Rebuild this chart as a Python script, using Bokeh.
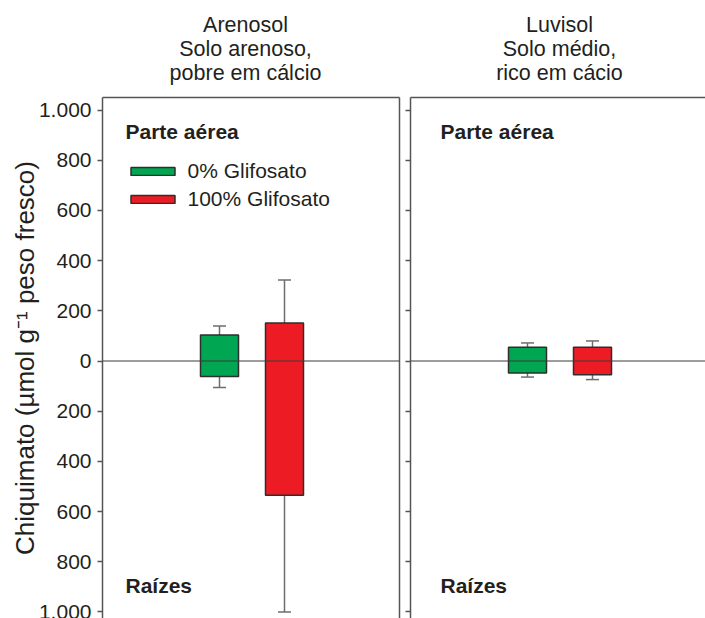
from bokeh.plotting import figure
from bokeh.models import (Range1d, LinearAxis, FixedTicker, Span, Whisker, TeeHead,
                          ColumnDataSource, Label, Legend, LegendItem)
from bokeh.layouts import row, column
from bokeh.embed import file_html
from bokeh.resources import INLINE

# ---------------- data ----------------
treatments = ["0% Glifosato", "100% Glifosato"]
colors = ["#00a651", "#ed1c24"]

# Arenosol (shoot = parte aérea, root = raízes), µmol g-1 peso fresco
are_shoot = [104, 151]
are_shoot_hi = [140, 323]
are_root = [62, 535]
are_root_lo = [106, 1000]

# Luvisol
luv_shoot = [55, 55]
luv_shoot_hi = [72, 80]
luv_root = [48, 55]
luv_root_lo = [64, 74]

ytick_values = [-1000, -800, -600, -400, -200, 0, 200, 400, 600, 800, 1000]
ytick_labels = ["1.000", "800", "600", "400", "200", "0", "200", "400", "600", "800", "1.000"]
panel_titles = [["Arenosol", "Solo arenoso,", "pobre em cálcio"],
                ["Luvisol", "Solo médio,", "rico em cácio"]]
shoot_label = "Parte aérea"
root_label = "Raízes"
y_label = "Chiquimato (µmol g\u207b\u00b9 peso fresco)"

# ---------------- style / layout ----------------
FONT = "Liberation Sans"
TXT = "#231f20"
FRAME = "#555555"
EDGE = "#2e2e2e"
WHISK = "#6e6e6e"
PX_PER_CAT = 65.0
FIRST_OFFSET = 117.0
W = 705
HEAD_H = 96
H = 522
Y_RANGE = (-1026, 1050)
TITLE_CENTERS = [245, 559]          # header pixels
TITLE_ROWS = [24, 48.5, 72]         # header pixels


def border_axis():
    return LinearAxis(ticker=FixedTicker(ticks=[]), major_tick_out=0, major_tick_in=0,
                      minor_tick_out=0, minor_tick_in=0, major_label_standoff=0,
                      axis_line_color=FRAME, axis_line_width=1.5)


def make_panel(shoot, shoot_hi, root, root_lo, width, border_left, border_right,
               frame_w, label_off, show_labels, right_border, legend):
    x0 = -FIRST_OFFSET / PX_PER_CAT
    x1 = x0 + frame_w / PX_PER_CAT
    p = figure(width=width, height=H, x_range=Range1d(x0, x1), y_range=Range1d(*Y_RANGE),
               output_backend="svg", toolbar_location=None, title=None,
               x_axis_location=None, y_axis_location=None,
               min_border_left=border_left, min_border_right=border_right,
               min_border_top=1, min_border_bottom=0)
    p.grid.visible = False
    p.outline_line_color = None
    p.background_fill_color = "white"
    p.border_fill_color = "white"

    src = ColumnDataSource(dict(
        x=list(range(len(treatments))),
        top=shoot,
        bottom=[-v for v in root],
        hi=shoot_hi,
        lo=[-v for v in root_lo],
        color=colors,
        name=treatments,
    ))

    w = Whisker(base="x", upper="hi", lower="lo", source=src, level="underlay",
                line_color=WHISK, line_width=1.5,
                upper_head=TeeHead(size=13, line_color=WHISK, line_width=1.5),
                lower_head=TeeHead(size=13, line_color=WHISK, line_width=1.5))
    p.add_layout(w)

    r = p.vbar(x="x", width=38 / PX_PER_CAT, top="top", bottom="bottom", source=src,
               fill_color="color", line_color=EDGE, line_width=1.5)

    p.add_layout(Span(location=0, dimension="width", line_color="#3a3a3a", line_width=1))

    yax = LinearAxis(ticker=FixedTicker(ticks=ytick_values),
                     major_tick_out=5, major_tick_in=0, minor_tick_out=0, minor_tick_in=0,
                     axis_line_color=FRAME, axis_line_width=1.5,
                     major_tick_line_color=FRAME, major_tick_line_width=1.5)
    if show_labels:
        yax.major_label_overrides = {v: s for v, s in zip(ytick_values, ytick_labels)}
        yax.major_label_text_font = FONT
        yax.major_label_text_font_size = "21px"
        yax.major_label_text_color = TXT
        yax.major_label_standoff = 6
        yax.axis_label = y_label
        yax.axis_label_text_font = FONT
        yax.axis_label_text_font_size = "26px"
        yax.axis_label_text_font_style = "normal"
        yax.axis_label_text_color = TXT
        yax.axis_label_standoff = -4
    else:
        yax.major_label_overrides = {v: "" for v in ytick_values}
        yax.major_label_standoff = 0
    p.add_layout(yax, "left")
    p.add_layout(border_axis(), "above")
    if right_border:
        p.add_layout(border_axis(), "right")

    lx = x0 + label_off / PX_PER_CAT
    p.add_layout(Label(x=lx, y=914, text=shoot_label, text_font=FONT, text_font_size="21px",
                       text_font_style="bold", text_color=TXT, text_baseline="alphabetic"))
    p.add_layout(Label(x=lx, y=-893, text=root_label, text_font=FONT, text_font_size="21px",
                       text_font_style="bold", text_color=TXT, text_baseline="alphabetic"))

    if legend:
        items = [LegendItem(label=treatments[i], renderers=[r], index=i)
                 for i in range(len(treatments))]
        leg = Legend(items=items, location=(22.5, 407.5), orientation="vertical",
                     border_line_color=None, background_fill_alpha=0,
                     label_text_font=FONT, label_text_font_size="21px", label_text_color=TXT,
                     label_standoff=8, glyph_width=55, glyph_height=10, label_height=23,
                     spacing=4, padding=0, margin=0)
        p.add_layout(leg)
    return p


# header with the panel titles (pixel coordinates, y downwards)
head = figure(width=W, height=HEAD_H, x_range=Range1d(0, W), y_range=Range1d(HEAD_H, 0),
              output_backend="svg", toolbar_location=None, title=None,
              x_axis_location=None, y_axis_location=None,
              min_border=0)
head.grid.visible = False
head.outline_line_color = None
head.border_fill_color = "white"
for cx, lines in zip(TITLE_CENTERS, panel_titles):
    for by, line in zip(TITLE_ROWS, lines):
        head.add_layout(Label(x=cx, y=by, text=line, text_align="center",
                              text_baseline="alphabetic", text_font=FONT,
                              text_font_size="21.5px", text_color=TXT))

p1 = make_panel(are_shoot, are_shoot_hi, are_root, are_root_lo,
                width=402, border_left=102, border_right=3, frame_w=297, label_off=23,
                show_labels=True, right_border=True, legend=True)
p2 = make_panel(luv_shoot, luv_shoot_hi, luv_root, luv_root_lo,
                width=303, border_left=8, border_right=0, frame_w=295, label_off=30,
                show_labels=False, right_border=False, legend=False)

layout = column(head, row(p1, p2))
open("out.html", "w").write(file_html(layout, INLINE))
